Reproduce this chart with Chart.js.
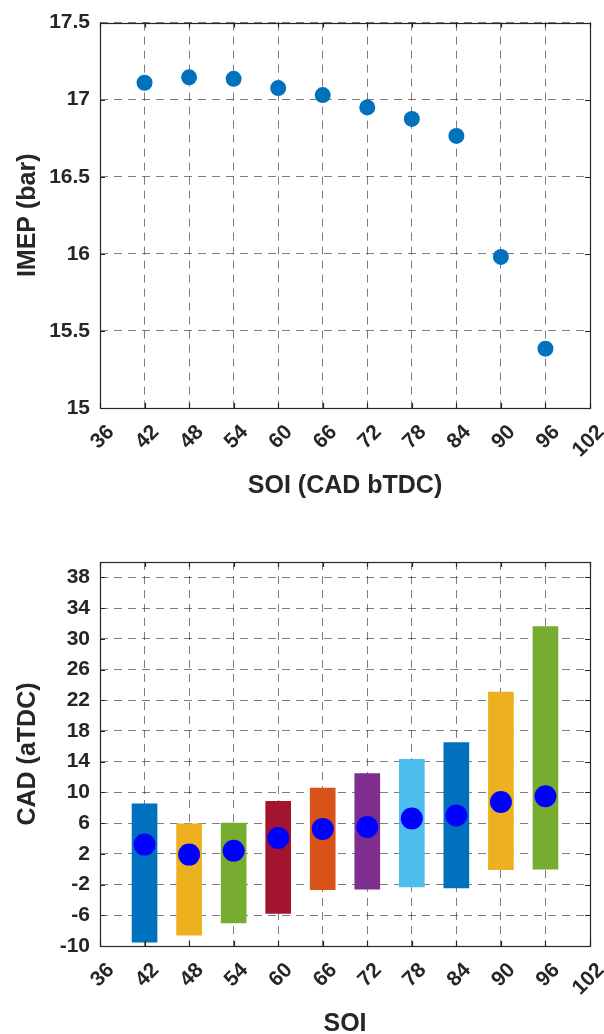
<!DOCTYPE html>
<html>
<head>
<meta charset="utf-8">
<script src="https://cdn.jsdelivr.net/npm/chart.js@4.4.1/dist/chart.umd.min.js"></script>
<style>
  html, body { margin: 0; padding: 0; background: #fff; overflow: hidden; }
  .panel { position: absolute; left: 0; width: 604px; }
  #imepBox { top: 0; height: 520px; }
  #cadBox { top: 520px; height: 524px; }
</style>
</head>
<body>
<div class="panel" id="imepBox"><canvas id="imepChart"></canvas></div>
<div class="panel" id="cadBox"><canvas id="cadChart"></canvas></div>
<script>
// Start of injection, CAD bTDC
const soi = [42, 48, 54, 60, 66, 72, 78, 84, 90, 96];
const soiTicks = [36, 42, 48, 54, 60, 66, 72, 78, 84, 90, 96, 102];

// IMEP (bar) per SOI
const imep = [17.11, 17.145, 17.135, 17.075, 17.03, 16.95, 16.875, 16.765, 15.98, 15.385];
const imepTicks = [15, 15.5, 16, 16.5, 17, 17.5];

// combustion window (CAD aTDC): start, end and mean point
const cadStart = [-9.5, -8.6, -7.0, -5.75, -2.65, -2.6, -2.3, -2.45, -0.05, 0.0];
const cadEnd = [8.5, 5.9, 6.0, 8.85, 10.55, 12.45, 14.3, 16.5, 23.05, 31.6];
const cadMean = [3.2, 1.9, 2.4, 4.05, 5.25, 5.5, 6.6, 7.0, 8.75, 9.5];
const cadTicks = [-10, -6, -2, 2, 6, 10, 14, 18, 22, 26, 30, 34, 38];

// matlab default color order
const barColors = ['#0072BD', '#EDB120', '#77AC30', '#A2142F', '#D95319',
                   '#7E2F8E', '#4DBEEE', '#0072BD', '#EDB120', '#77AC30'];

const FONT = '"Liberation Sans", Arial, Helvetica, sans-serif';
const INK = '#262626';
const GRID = 'rgba(40,40,40,0.6)';

// box around plot area + small inward tick marks
const boxPlugin = {
    id: 'box',
    afterDatasetsDraw(chart) {
        const { ctx, chartArea: a, scales } = chart;
        const len = 5;
        ctx.save();
        ctx.strokeStyle = INK;
        ctx.lineWidth = 1.2;
        ctx.beginPath();
        scales.x.ticks.forEach(t => {
            const px = Math.round(scales.x.getPixelForValue(t.value)) + 0.5;
            ctx.moveTo(px, a.bottom); ctx.lineTo(px, a.bottom - len);
            ctx.moveTo(px, a.top); ctx.lineTo(px, a.top + len);
        });
        scales.y.ticks.forEach(t => {
            const py = Math.round(scales.y.getPixelForValue(t.value)) + 0.5;
            ctx.moveTo(a.left, py); ctx.lineTo(a.left + len, py);
            ctx.moveTo(a.right, py); ctx.lineTo(a.right - len, py);
        });
        ctx.stroke();
        ctx.strokeRect(Math.round(a.left) + 0.5, Math.round(a.top) + 0.5,
                       Math.round(a.right - a.left), Math.round(a.bottom - a.top));
        ctx.restore();
    }
};

function xAxis(title, height, titlePad) {
    return {
        type: 'linear',
        min: 36, max: 102,
        offset: false,
        afterBuildTicks: s => { s.ticks = soiTicks.map(v => ({ value: v })); },
        afterFit: s => {
            s.height = height;
            // rotated labels should not shrink the plot area
            s.paddingLeft = 0;
            s.paddingRight = 0;
        },
        grid: { color: GRID, lineWidth: 1, drawTicks: false, offset: false },
        border: { display: false, dash: [8, 6] },
        ticks: {
            color: INK, font: { family: FONT, size: 21, weight: 'bold' },
            minRotation: 45, maxRotation: 45, autoSkip: false,
            padding: 12, labelOffset: 11
        },
        title: {
            display: true, text: title, color: INK,
            font: { family: FONT, size: 25, weight: 'bold' },
            padding: { top: 0, bottom: titlePad }
        }
    };
}

function yAxis(title, min, max, tickList) {
    return {
        type: 'linear',
        min, max,
        afterBuildTicks: s => { s.ticks = tickList.map(v => ({ value: v })); },
        afterFit: s => { s.width = 100; },
        grid: { color: GRID, lineWidth: 1, drawTicks: false },
        border: { display: false, dash: [8, 6] },
        ticks: {
            color: INK, font: { family: FONT, size: 21, weight: 'bold' },
            padding: 10,
            callback: v => String(v)
        },
        title: {
            display: true, text: title, color: INK,
            font: { family: FONT, size: 25, weight: 'bold' },
            padding: { top: 13, bottom: 0 }
        }
    };
}

const baseOptions = {
    responsive: true,
    maintainAspectRatio: false,
    animation: false,
    events: [],
    plugins: { legend: { display: false }, tooltip: { enabled: false } }
};

// IMEP vs SOI
new Chart(document.getElementById('imepChart'), {
    type: 'scatter',
    data: {
        datasets: [{
            data: soi.map((s, i) => ({ x: s, y: imep[i] })),
            backgroundColor: '#0072BD',
            borderWidth: 0,
            pointRadius: 8
        }]
    },
    options: {
        ...baseOptions,
        layout: { padding: { left: 0, right: 14, top: 20, bottom: 0 } },
        scales: {
            x: xAxis('SOI (CAD bTDC)', 112, 19),
            y: yAxis('IMEP (bar)', 15, 17.5, imepTicks)
        }
    },
    plugins: [boxPlugin]
});

// combustion duration range per SOI
new Chart(document.getElementById('cadChart'), {
    data: {
        datasets: [{
            type: 'bar',
            order: 2,
            data: soi.map((s, i) => ({ x: s, y: [cadStart[i], cadEnd[i]] })),
            backgroundColor: barColors,
            borderWidth: 0,
            barThickness: 25
        }, {
            type: 'scatter',
            order: 1,
            data: soi.map((s, i) => ({ x: s, y: cadMean[i] })),
            backgroundColor: '#0000FF',
            borderWidth: 0,
            pointRadius: 11
        }]
    },
    options: {
        ...baseOptions,
        layout: { padding: { left: 0, right: 14, top: 42, bottom: 0 } },
        scales: {
            x: xAxis('SOI', 98, 5),
            y: yAxis('CAD (aTDC)', -10, 40, cadTicks)
        }
    },
    plugins: [boxPlugin]
});
</script>
</body>
</html>
